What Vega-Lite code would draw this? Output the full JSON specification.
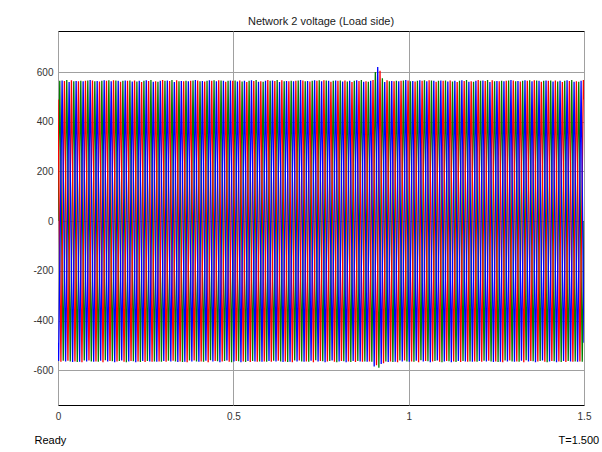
{
"$schema": "https://vega.github.io/schema/vega-lite/v6.json",
"autosize": "none",
"width": 526,
"height": 374,
"padding": {"left": 58, "top": 31, "right": 18, "bottom": 47},
"background": "#ffffff",
"config": {"view": {"stroke": "#000000", "strokeWidth": 1, "fill": "#ffffff"}},
"title": {"text": "Network 2 voltage (Load side)", "font": "Liberation Sans", "fontSize": 11, "fontWeight": "normal", "color": "#1a1a1a", "anchor": "middle", "offset": 4},
"datasets": {
"a": [{"t":0,"v":0},
{"t":0.005,"v":565},{"t":0.015,"v":-562},{"t":0.025,"v":568},{"t":0.035,"v":-565},{"t":0.045,"v":563},{"t":0.055,"v":-567},{"t":0.065,"v":565},{"t":0.075,"v":-561},{"t":0.085,"v":566},{"t":0.095,"v":-565},
{"t":0.105,"v":563},{"t":0.115,"v":-566},{"t":0.125,"v":565},{"t":0.135,"v":-560},{"t":0.145,"v":567},{"t":0.155,"v":-564},{"t":0.165,"v":566},{"t":0.175,"v":-563},{"t":0.185,"v":565},{"t":0.195,"v":-568},
{"t":0.205,"v":566},{"t":0.215,"v":-564},{"t":0.225,"v":562},{"t":0.235,"v":-567},{"t":0.245,"v":565},{"t":0.255,"v":-563},{"t":0.265,"v":568},{"t":0.275,"v":-565},{"t":0.285,"v":561},{"t":0.295,"v":-566},
{"t":0.305,"v":565},{"t":0.315,"v":-562},{"t":0.325,"v":568},{"t":0.335,"v":-565},{"t":0.345,"v":563},{"t":0.355,"v":-567},{"t":0.365,"v":565},{"t":0.375,"v":-561},{"t":0.385,"v":566},{"t":0.395,"v":-565},
{"t":0.405,"v":563},{"t":0.415,"v":-566},{"t":0.425,"v":565},{"t":0.435,"v":-560},{"t":0.445,"v":567},{"t":0.455,"v":-564},{"t":0.465,"v":566},{"t":0.475,"v":-563},{"t":0.485,"v":565},{"t":0.495,"v":-568},
{"t":0.505,"v":566},{"t":0.515,"v":-564},{"t":0.525,"v":562},{"t":0.535,"v":-567},{"t":0.545,"v":565},{"t":0.555,"v":-563},{"t":0.565,"v":568},{"t":0.575,"v":-565},{"t":0.585,"v":561},{"t":0.595,"v":-566},
{"t":0.605,"v":565},{"t":0.615,"v":-562},{"t":0.625,"v":568},{"t":0.635,"v":-565},{"t":0.645,"v":563},{"t":0.655,"v":-567},{"t":0.665,"v":565},{"t":0.675,"v":-561},{"t":0.685,"v":566},{"t":0.695,"v":-565},
{"t":0.705,"v":563},{"t":0.715,"v":-566},{"t":0.725,"v":565},{"t":0.735,"v":-560},{"t":0.745,"v":567},{"t":0.755,"v":-564},{"t":0.765,"v":566},{"t":0.775,"v":-563},{"t":0.785,"v":565},{"t":0.795,"v":-568},
{"t":0.805,"v":566},{"t":0.815,"v":-564},{"t":0.825,"v":562},{"t":0.835,"v":-567},{"t":0.845,"v":565},{"t":0.855,"v":-563},{"t":0.865,"v":568},{"t":0.875,"v":-565},{"t":0.885,"v":561},{"t":0.895,"v":-566},
{"t":0.905,"v":600},{"t":0.915,"v":-590},{"t":0.925,"v":575},{"t":0.935,"v":-565},{"t":0.945,"v":563},{"t":0.955,"v":-567},{"t":0.965,"v":565},{"t":0.975,"v":-561},{"t":0.985,"v":566},{"t":0.995,"v":-565},
{"t":1.005,"v":563},{"t":1.015,"v":-566},{"t":1.025,"v":565},{"t":1.035,"v":-560},{"t":1.045,"v":567},{"t":1.055,"v":-564},{"t":1.065,"v":566},{"t":1.075,"v":-563},{"t":1.085,"v":565},{"t":1.095,"v":-568},
{"t":1.105,"v":566},{"t":1.115,"v":-564},{"t":1.125,"v":562},{"t":1.135,"v":-567},{"t":1.145,"v":565},{"t":1.155,"v":-563},{"t":1.165,"v":568},{"t":1.175,"v":-565},{"t":1.185,"v":561},{"t":1.195,"v":-566},
{"t":1.205,"v":565},{"t":1.215,"v":-562},{"t":1.225,"v":568},{"t":1.235,"v":-565},{"t":1.245,"v":563},{"t":1.255,"v":-567},{"t":1.265,"v":565},{"t":1.275,"v":-561},{"t":1.285,"v":566},{"t":1.295,"v":-565},
{"t":1.305,"v":563},{"t":1.315,"v":-566},{"t":1.325,"v":565},{"t":1.335,"v":-560},{"t":1.345,"v":567},{"t":1.355,"v":-564},{"t":1.365,"v":566},{"t":1.375,"v":-563},{"t":1.385,"v":565},{"t":1.395,"v":-568},
{"t":1.405,"v":566},{"t":1.415,"v":-564},{"t":1.425,"v":562},{"t":1.435,"v":-567},{"t":1.445,"v":565},{"t":1.455,"v":-563},{"t":1.465,"v":568},{"t":1.475,"v":-565},{"t":1.485,"v":561},{"t":1.495,"v":-566},
{"t":1.5,"v":0}],
"b": [{"t":0,"v":-489},
{"t":0.0017,"v":-563},{"t":0.0117,"v":566},{"t":0.0217,"v":-565},{"t":0.0317,"v":560},{"t":0.0417,"v":-567},{"t":0.0517,"v":564},{"t":0.0617,"v":-566},{"t":0.0717,"v":563},{"t":0.0817,"v":-565},{"t":0.0917,"v":568},
{"t":0.1017,"v":-566},{"t":0.1117,"v":564},{"t":0.1217,"v":-562},{"t":0.1317,"v":567},{"t":0.1417,"v":-565},{"t":0.1517,"v":563},{"t":0.1617,"v":-568},{"t":0.1717,"v":565},{"t":0.1817,"v":-561},{"t":0.1917,"v":566},
{"t":0.2017,"v":-565},{"t":0.2117,"v":562},{"t":0.2217,"v":-568},{"t":0.2317,"v":565},{"t":0.2417,"v":-563},{"t":0.2517,"v":567},{"t":0.2617,"v":-565},{"t":0.2717,"v":561},{"t":0.2817,"v":-566},{"t":0.2917,"v":565},
{"t":0.3017,"v":-563},{"t":0.3117,"v":566},{"t":0.3217,"v":-565},{"t":0.3317,"v":560},{"t":0.3417,"v":-567},{"t":0.3517,"v":564},{"t":0.3617,"v":-566},{"t":0.3717,"v":563},{"t":0.3817,"v":-565},{"t":0.3917,"v":568},
{"t":0.4017,"v":-566},{"t":0.4117,"v":564},{"t":0.4217,"v":-562},{"t":0.4317,"v":567},{"t":0.4417,"v":-565},{"t":0.4517,"v":563},{"t":0.4617,"v":-568},{"t":0.4717,"v":565},{"t":0.4817,"v":-561},{"t":0.4917,"v":566},
{"t":0.5017,"v":-565},{"t":0.5117,"v":562},{"t":0.5217,"v":-568},{"t":0.5317,"v":565},{"t":0.5417,"v":-563},{"t":0.5517,"v":567},{"t":0.5617,"v":-565},{"t":0.5717,"v":561},{"t":0.5817,"v":-566},{"t":0.5917,"v":565},
{"t":0.6017,"v":-563},{"t":0.6117,"v":566},{"t":0.6217,"v":-565},{"t":0.6317,"v":560},{"t":0.6417,"v":-567},{"t":0.6517,"v":564},{"t":0.6617,"v":-566},{"t":0.6717,"v":563},{"t":0.6817,"v":-565},{"t":0.6917,"v":568},
{"t":0.7017,"v":-566},{"t":0.7117,"v":564},{"t":0.7217,"v":-562},{"t":0.7317,"v":567},{"t":0.7417,"v":-565},{"t":0.7517,"v":563},{"t":0.7617,"v":-568},{"t":0.7717,"v":565},{"t":0.7817,"v":-561},{"t":0.7917,"v":566},
{"t":0.8017,"v":-565},{"t":0.8117,"v":562},{"t":0.8217,"v":-568},{"t":0.8317,"v":565},{"t":0.8417,"v":-563},{"t":0.8517,"v":567},{"t":0.8617,"v":-565},{"t":0.8717,"v":561},{"t":0.8817,"v":-566},{"t":0.8917,"v":565},
{"t":0.9017,"v":-585},{"t":0.9117,"v":620},{"t":0.9217,"v":-575},{"t":0.9317,"v":560},{"t":0.9417,"v":-567},{"t":0.9517,"v":564},{"t":0.9617,"v":-566},{"t":0.9717,"v":563},{"t":0.9817,"v":-565},{"t":0.9917,"v":568},
{"t":1.0017,"v":-566},{"t":1.0117,"v":564},{"t":1.0217,"v":-562},{"t":1.0317,"v":567},{"t":1.0417,"v":-565},{"t":1.0517,"v":563},{"t":1.0617,"v":-568},{"t":1.0717,"v":565},{"t":1.0817,"v":-561},{"t":1.0917,"v":566},
{"t":1.1017,"v":-565},{"t":1.1117,"v":562},{"t":1.1217,"v":-568},{"t":1.1317,"v":565},{"t":1.1417,"v":-563},{"t":1.1517,"v":567},{"t":1.1617,"v":-565},{"t":1.1717,"v":561},{"t":1.1817,"v":-566},{"t":1.1917,"v":565},
{"t":1.2017,"v":-563},{"t":1.2117,"v":566},{"t":1.2217,"v":-565},{"t":1.2317,"v":560},{"t":1.2417,"v":-567},{"t":1.2517,"v":564},{"t":1.2617,"v":-566},{"t":1.2717,"v":563},{"t":1.2817,"v":-565},{"t":1.2917,"v":568},
{"t":1.3017,"v":-566},{"t":1.3117,"v":564},{"t":1.3217,"v":-562},{"t":1.3317,"v":567},{"t":1.3417,"v":-565},{"t":1.3517,"v":563},{"t":1.3617,"v":-568},{"t":1.3717,"v":565},{"t":1.3817,"v":-561},{"t":1.3917,"v":566},
{"t":1.4017,"v":-565},{"t":1.4117,"v":562},{"t":1.4217,"v":-568},{"t":1.4317,"v":565},{"t":1.4417,"v":-563},{"t":1.4517,"v":567},{"t":1.4617,"v":-565},{"t":1.4717,"v":561},{"t":1.4817,"v":-566},{"t":1.4917,"v":565},
{"t":1.5,"v":-489}],
"c": [{"t":0,"v":489},
{"t":0.0083,"v":-566},{"t":0.0183,"v":564},{"t":0.0283,"v":-562},{"t":0.0383,"v":567},{"t":0.0483,"v":-565},{"t":0.0583,"v":563},{"t":0.0683,"v":-568},{"t":0.0783,"v":565},{"t":0.0883,"v":-561},{"t":0.0983,"v":566},
{"t":0.1083,"v":-565},{"t":0.1183,"v":562},{"t":0.1283,"v":-568},{"t":0.1383,"v":565},{"t":0.1483,"v":-563},{"t":0.1583,"v":567},{"t":0.1683,"v":-565},{"t":0.1783,"v":561},{"t":0.1883,"v":-566},{"t":0.1983,"v":565},
{"t":0.2083,"v":-563},{"t":0.2183,"v":566},{"t":0.2283,"v":-565},{"t":0.2383,"v":560},{"t":0.2483,"v":-567},{"t":0.2583,"v":564},{"t":0.2683,"v":-566},{"t":0.2783,"v":563},{"t":0.2883,"v":-565},{"t":0.2983,"v":568},
{"t":0.3083,"v":-566},{"t":0.3183,"v":564},{"t":0.3283,"v":-562},{"t":0.3383,"v":567},{"t":0.3483,"v":-565},{"t":0.3583,"v":563},{"t":0.3683,"v":-568},{"t":0.3783,"v":565},{"t":0.3883,"v":-561},{"t":0.3983,"v":566},
{"t":0.4083,"v":-565},{"t":0.4183,"v":562},{"t":0.4283,"v":-568},{"t":0.4383,"v":565},{"t":0.4483,"v":-563},{"t":0.4583,"v":567},{"t":0.4683,"v":-565},{"t":0.4783,"v":561},{"t":0.4883,"v":-566},{"t":0.4983,"v":565},
{"t":0.5083,"v":-563},{"t":0.5183,"v":566},{"t":0.5283,"v":-565},{"t":0.5383,"v":560},{"t":0.5483,"v":-567},{"t":0.5583,"v":564},{"t":0.5683,"v":-566},{"t":0.5783,"v":563},{"t":0.5883,"v":-565},{"t":0.5983,"v":568},
{"t":0.6083,"v":-566},{"t":0.6183,"v":564},{"t":0.6283,"v":-562},{"t":0.6383,"v":567},{"t":0.6483,"v":-565},{"t":0.6583,"v":563},{"t":0.6683,"v":-568},{"t":0.6783,"v":565},{"t":0.6883,"v":-561},{"t":0.6983,"v":566},
{"t":0.7083,"v":-565},{"t":0.7183,"v":562},{"t":0.7283,"v":-568},{"t":0.7383,"v":565},{"t":0.7483,"v":-563},{"t":0.7583,"v":567},{"t":0.7683,"v":-565},{"t":0.7783,"v":561},{"t":0.7883,"v":-566},{"t":0.7983,"v":565},
{"t":0.8083,"v":-563},{"t":0.8183,"v":566},{"t":0.8283,"v":-565},{"t":0.8383,"v":560},{"t":0.8483,"v":-567},{"t":0.8583,"v":564},{"t":0.8683,"v":-566},{"t":0.8783,"v":563},{"t":0.8883,"v":-565},{"t":0.8983,"v":568},
{"t":0.9083,"v":-580},{"t":0.9183,"v":605},{"t":0.9283,"v":-572},{"t":0.9383,"v":567},{"t":0.9483,"v":-565},{"t":0.9583,"v":563},{"t":0.9683,"v":-568},{"t":0.9783,"v":565},{"t":0.9883,"v":-561},{"t":0.9983,"v":566},
{"t":1.0083,"v":-565},{"t":1.0183,"v":562},{"t":1.0283,"v":-568},{"t":1.0383,"v":565},{"t":1.0483,"v":-563},{"t":1.0583,"v":567},{"t":1.0683,"v":-565},{"t":1.0783,"v":561},{"t":1.0883,"v":-566},{"t":1.0983,"v":565},
{"t":1.1083,"v":-563},{"t":1.1183,"v":566},{"t":1.1283,"v":-565},{"t":1.1383,"v":560},{"t":1.1483,"v":-567},{"t":1.1583,"v":564},{"t":1.1683,"v":-566},{"t":1.1783,"v":563},{"t":1.1883,"v":-565},{"t":1.1983,"v":568},
{"t":1.2083,"v":-566},{"t":1.2183,"v":564},{"t":1.2283,"v":-562},{"t":1.2383,"v":567},{"t":1.2483,"v":-565},{"t":1.2583,"v":563},{"t":1.2683,"v":-568},{"t":1.2783,"v":565},{"t":1.2883,"v":-561},{"t":1.2983,"v":566},
{"t":1.3083,"v":-565},{"t":1.3183,"v":562},{"t":1.3283,"v":-568},{"t":1.3383,"v":565},{"t":1.3483,"v":-563},{"t":1.3583,"v":567},{"t":1.3683,"v":-565},{"t":1.3783,"v":561},{"t":1.3883,"v":-566},{"t":1.3983,"v":565},
{"t":1.4083,"v":-563},{"t":1.4183,"v":566},{"t":1.4283,"v":-565},{"t":1.4383,"v":560},{"t":1.4483,"v":-567},{"t":1.4583,"v":564},{"t":1.4683,"v":-566},{"t":1.4783,"v":563},{"t":1.4883,"v":-565},{"t":1.4983,"v":568},
{"t":1.5,"v":489}]
},
"encoding": {
"x": {"field": "t", "type": "quantitative", "scale": {"domain": [0, 1.5], "nice": false, "zero": false},
 "axis": {"values": [0, 0.5, 1, 1.5], "grid": true, "gridColor": "#a0a0a0", "gridWidth": 1, "domain": false, "ticks": false,
  "labelExpr": "'' + datum.value", "labelFont": "Liberation Sans", "labelFontSize": 10, "labelColor": "#333333", "labelPadding": 6, "labelFlush": false,
  "title": "Ready", "titleFont": "Liberation Sans", "titleFontSize": 11, "titleFontWeight": "normal", "titleColor": "#000000",
  "titleAnchor": "start", "titleAlign": "left", "titleBaseline": "middle", "titleX": -24, "titleY": 35}},
"y": {"field": "v", "type": "quantitative", "scale": {"domain": [-740, 765], "nice": false, "zero": false},
 "axis": {"values": [-600, -400, -200, 0, 200, 400, 600], "grid": true, "gridColor": "#a0a0a0", "gridWidth": 1, "domain": false, "ticks": false,
  "labelExpr": "'' + datum.value", "labelFont": "Liberation Sans", "labelFontSize": 10, "labelColor": "#333333", "labelPadding": 5,
  "title": "T=1.500", "titleFont": "Liberation Sans", "titleFontSize": 11, "titleFontWeight": "normal", "titleColor": "#000000",
  "titleAngle": 0, "titleAnchor": "start", "titleAlign": "left", "titleBaseline": "middle", "titleX": 500, "titleY": 409}}
},
"layer": [
{"data": {"name": "a"}, "mark": {"type": "line", "color": "#008000", "strokeWidth": 1.3, "clip": true}},
{"data": {"name": "c"}, "mark": {"type": "line", "color": "#ff0000", "strokeWidth": 1.3, "clip": true}},
{"data": {"name": "b"}, "mark": {"type": "line", "color": "#0000ff", "strokeWidth": 1.3, "clip": true}}
]
}
